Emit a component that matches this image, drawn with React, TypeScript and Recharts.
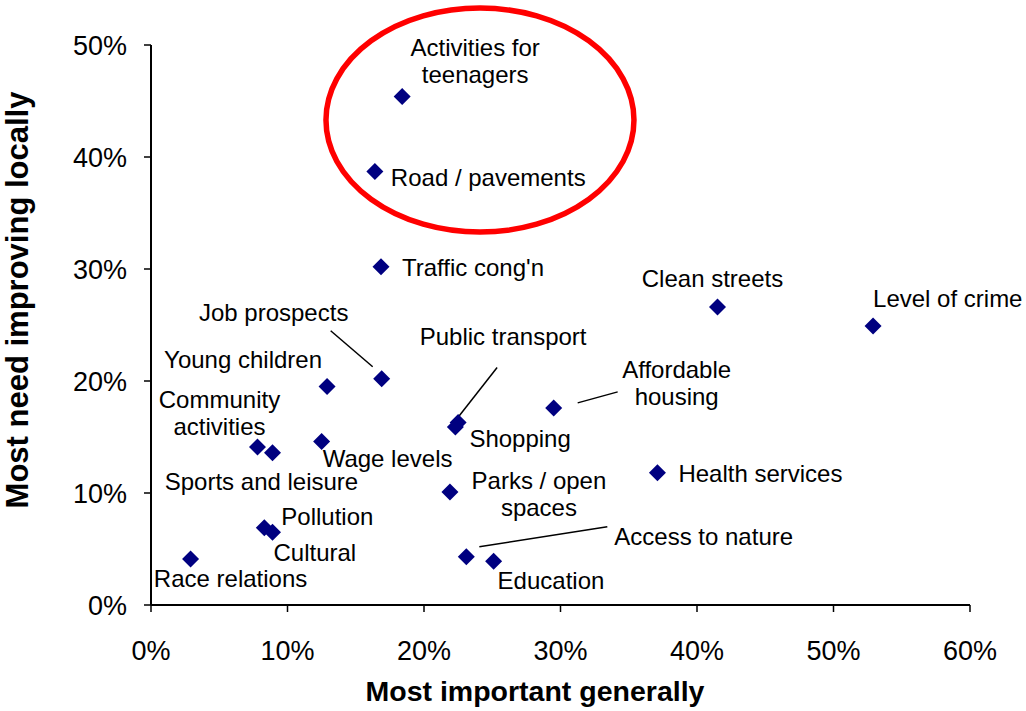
import { ScatterChart, Scatter, XAxis, YAxis, ReferenceDot, Label } from "recharts";

const names = [
  "Activities for teenagers",
  "Road / pavements",
  "Traffic cong'n",
  "Clean streets",
  "Level of crime",
  "Job prospects",
  "Young children",
  "Public transport",
  "Shopping",
  "Affordable housing",
  "Community activities",
  "Sports and leisure",
  "Wage levels",
  "Parks / open spaces",
  "Health services",
  "Pollution",
  "Cultural",
  "Race relations",
  "Access to nature",
  "Education",
];

// % saying most important generally
const importantGenerally = [
  18.4, 16.4, 16.85, 41.5, 52.9, 16.9, 12.9, 22.5, 22.3, 29.5, 7.8, 8.9, 12.5,
  21.9, 37.1, 8.3, 8.9, 2.9, 23.1, 25.1,
];

// % saying most need improving locally
const needImproving = [
  45.4, 38.7, 30.2, 26.6, 24.9, 20.2, 19.5, 16.3, 15.9, 17.6, 14.1, 13.6, 14.6,
  10.1, 11.8, 6.9, 6.5, 4.1, 4.3, 3.9,
];

const xTicks = [0, 10, 20, 30, 40, 50, 60];
const yTicks = [0, 10, 20, 30, 40, 50];

// centre of the red ring round the top two items
const ringCentre = { x: 24.1, y: 43.3 };

const points = names.map((name, i) => ({
  name,
  x: importantGenerally[i],
  y: needImproving[i],
}));

const FONT = '"Liberation Sans", Arial, sans-serif';

type Layout = {
  lines: string[];
  dx: number;
  dy: number;
  anchor: "start" | "middle" | "end";
  leader?: [number, number, number, number];
};

// label placement relative to the marker (pixels)
const labelLayout: Record<string, Layout> = {
  "Activities for teenagers": { lines: ["Activities for", "teenagers"], dx: 73, dy: -49, anchor: "middle" },
  "Road / pavements": { lines: ["Road / pavements"], dx: 16, dy: 6, anchor: "start" },
  "Traffic cong'n": { lines: ["Traffic cong'n"], dx: 21, dy: 1, anchor: "start" },
  "Clean streets": { lines: ["Clean streets"], dx: -5, dy: -29, anchor: "middle" },
  "Level of crime": { lines: ["Level of crime"], dx: 0, dy: -28, anchor: "start" },
  "Job prospects": { lines: ["Job prospects"], dx: -108, dy: -66, anchor: "middle", leader: [-51, -48, -9, -12] },
  "Young children": { lines: ["Young children"], dx: -84, dy: -27, anchor: "middle" },
  "Public transport": { lines: ["Public transport"], dx: 45, dy: -86, anchor: "middle", leader: [39, -55, -1, -4] },
  Shopping: { lines: ["Shopping"], dx: 14, dy: 11, anchor: "start" },
  "Affordable housing": { lines: ["Affordable", "housing"], dx: 123, dy: -39, anchor: "middle", leader: [24, -5, 64, -16] },
  "Community activities": { lines: ["Community", "activities"], dx: -38, dy: -48, anchor: "middle" },
  "Sports and leisure": { lines: ["Sports and leisure"], dx: -11, dy: 29, anchor: "middle" },
  "Wage levels": { lines: ["Wage levels"], dx: 1, dy: 17, anchor: "start" },
  "Parks / open spaces": { lines: ["Parks / open", "spaces"], dx: 89, dy: -12, anchor: "middle" },
  "Health services": { lines: ["Health services"], dx: 21, dy: 1, anchor: "start" },
  Pollution: { lines: ["Pollution"], dx: 17, dy: -11, anchor: "start" },
  Cultural: { lines: ["Cultural"], dx: 1, dy: 20, anchor: "start" },
  "Race relations": { lines: ["Race relations"], dx: 40, dy: 19, anchor: "middle" },
  "Access to nature": { lines: ["Access to nature"], dx: 148, dy: -20, anchor: "start", leader: [13, -10, 141, -30] },
  Education: { lines: ["Education"], dx: 4, dy: 19, anchor: "start" },
};

function Marker(props: any) {
  const { cx, cy, payload } = props;
  const lay = labelLayout[payload.name];
  const r = 8.5;
  return (
    <g>
      {lay && lay.leader && (
        <line
          x1={cx + lay.leader[0]}
          y1={cy + lay.leader[1]}
          x2={cx + lay.leader[2]}
          y2={cy + lay.leader[3]}
          stroke="#000"
          strokeWidth={1.5}
        />
      )}
      <polygon
        points={`${cx},${cy - r} ${cx + r},${cy} ${cx},${cy + r} ${cx - r},${cy}`}
        fill="#000080"
      />
      {lay &&
        lay.lines.map((t, i) => (
          <text
            key={i}
            x={cx + lay.dx}
            y={cy + lay.dy + i * 27}
            dy="0.36em"
            textAnchor={lay.anchor}
            fontSize={24}
            fontFamily={FONT}
            fill="#000"
          >
            {t}
          </text>
        ))}
    </g>
  );
}

function Ring(props: any) {
  const { cx, cy } = props;
  return (
    <ellipse cx={cx} cy={cy} rx={154} ry={112} fill="none" stroke="#ff0000" strokeWidth={5.5} />
  );
}

export default function App() {
  return (
    <div style={{ position: "absolute", left: 0, top: 0, background: "#fff" }}>
      <ScatterChart
        width={1026}
        height={711}
        margin={{ top: 45, right: 56, left: 0, bottom: 0 }}
      >
        <XAxis
          type="number"
          dataKey="x"
          domain={[0, 60]}
          ticks={xTicks}
          tickFormatter={(v) => `${v}%`}
          height={106}
          tickSize={7}
          tickMargin={29}
          axisLine={{ stroke: "#000", strokeWidth: 2 }}
          tickLine={{ stroke: "#000", strokeWidth: 1.5 }}
          tick={{ fill: "#000", fontSize: 27, fontFamily: FONT }}
        >
          <Label
            content={() => (
              <text
                x={535}
                y={701}
                textAnchor="middle"
                fontSize={28.5}
                fontWeight="bold"
                fontFamily={FONT}
                fill="#000"
              >
                Most important generally
              </text>
            )}
          />
        </XAxis>
        <YAxis
          type="number"
          dataKey="y"
          domain={[0, 50]}
          ticks={yTicks}
          tickFormatter={(v) => `${v}%`}
          width={151}
          tickSize={7}
          tickMargin={17}
          axisLine={{ stroke: "#000", strokeWidth: 2 }}
          tickLine={{ stroke: "#000", strokeWidth: 1.5 }}
          tick={{ fill: "#000", fontSize: 27, fontFamily: FONT }}
        >
          <Label
            content={() => (
              <text
                transform="translate(28,300) rotate(-90)"
                textAnchor="middle"
                fontSize={31}
                fontWeight="bold"
                fontFamily={FONT}
                fill="#000"
              >
                Most need improving locally
              </text>
            )}
          />
        </YAxis>
        <Scatter data={points} shape={<Marker />} isAnimationActive={false} />
        <ReferenceDot
          x={ringCentre.x}
          y={ringCentre.y}
          r={1}
          ifOverflow="visible"
          shape={<Ring />}
        />
      </ScatterChart>
    </div>
  );
}
